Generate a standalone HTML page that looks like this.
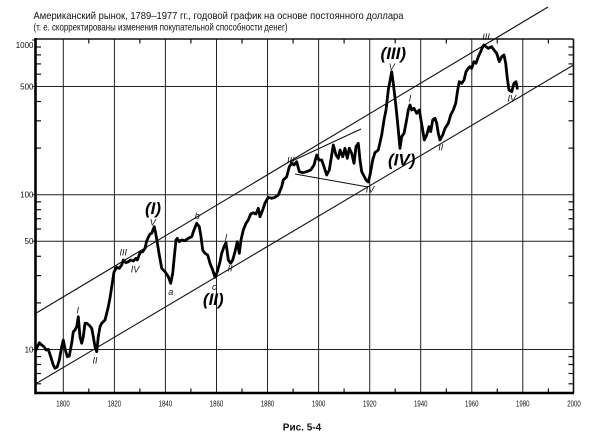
<!DOCTYPE html>
<html><head><meta charset="utf-8"><style>
html,body{margin:0;padding:0;background:#fff;}
svg{display:block;}
text{font-family:"Liberation Sans","DejaVu Sans",sans-serif;}
</style></head><body>
<svg width="600" height="438" viewBox="0 0 600 438" xmlns="http://www.w3.org/2000/svg">
<rect width="600" height="438" fill="#fff"/>
<!-- title -->
<text x="33.5" y="18.9" font-size="10.3" fill="#111" textLength="370" lengthAdjust="spacingAndGlyphs">Американский рынок, 1789–1977 гг., годовой график на основе постоянного доллара</text>
<text x="33.5" y="30.4" font-size="10.3" fill="#111" textLength="254" lengthAdjust="spacingAndGlyphs">(т. е. скорректированы изменения покупательной способности денег)</text>

<!-- grid -->
<g stroke="#222" stroke-width="1">
<line x1="63.3" y1="39" x2="63.3" y2="393"/>
<line x1="114.4" y1="39" x2="114.4" y2="393"/>
<line x1="165.4" y1="39" x2="165.4" y2="393"/>
<line x1="216.5" y1="39" x2="216.5" y2="393"/>
<line x1="267.5" y1="39" x2="267.5" y2="393"/>
<line x1="318.6" y1="39" x2="318.6" y2="393"/>
<line x1="369.7" y1="39" x2="369.7" y2="393"/>
<line x1="420.7" y1="39" x2="420.7" y2="393"/>
<line x1="471.8" y1="39" x2="471.8" y2="393"/>
<line x1="522.8" y1="39" x2="522.8" y2="393"/>
<line x1="32" y1="86.5" x2="573.5" y2="86.5"/>
<line x1="32" y1="194.7" x2="573.5" y2="194.7"/>
<line x1="32" y1="241.3" x2="573.5" y2="241.3"/>
<line x1="32" y1="349.5" x2="573.5" y2="349.5"/>
<line x1="32" y1="40" x2="36" y2="40"/>
</g>

<!-- minor ticks left & right -->
<g stroke="#111" stroke-width="1.2">
<line x1="35.5" y1="383.8" x2="41" y2="383.8"/><line x1="35.5" y1="373.5" x2="41" y2="373.5"/>
<line x1="35.5" y1="364.5" x2="41" y2="364.5"/><line x1="35.5" y1="356.6" x2="41" y2="356.6"/>
<line x1="35.5" y1="302.9" x2="41" y2="302.9"/><line x1="35.5" y1="275.6" x2="41" y2="275.6"/>
<line x1="35.5" y1="256.3" x2="41" y2="256.3"/><line x1="35.5" y1="229" x2="41" y2="229"/>
<line x1="35.5" y1="218.7" x2="41" y2="218.7"/><line x1="35.5" y1="209.7" x2="41" y2="209.7"/>
<line x1="35.5" y1="201.8" x2="41" y2="201.8"/><line x1="35.5" y1="148.1" x2="41" y2="148.1"/>
<line x1="35.5" y1="120.8" x2="41" y2="120.8"/><line x1="35.5" y1="101.5" x2="41" y2="101.5"/>
<line x1="35.5" y1="74.2" x2="41" y2="74.2"/><line x1="35.5" y1="63.9" x2="41" y2="63.9"/>
<line x1="35.5" y1="54.9" x2="41" y2="54.9"/><line x1="35.5" y1="47" x2="41" y2="47"/>

<line x1="568.5" y1="383.8" x2="573.5" y2="383.8"/><line x1="568.5" y1="373.5" x2="573.5" y2="373.5"/>
<line x1="568.5" y1="364.5" x2="573.5" y2="364.5"/><line x1="568.5" y1="356.6" x2="573.5" y2="356.6"/>
<line x1="568.5" y1="302.9" x2="573.5" y2="302.9"/><line x1="568.5" y1="275.6" x2="573.5" y2="275.6"/>
<line x1="568.5" y1="256.3" x2="573.5" y2="256.3"/><line x1="568.5" y1="229" x2="573.5" y2="229"/>
<line x1="568.5" y1="218.7" x2="573.5" y2="218.7"/><line x1="568.5" y1="209.7" x2="573.5" y2="209.7"/>
<line x1="568.5" y1="201.8" x2="573.5" y2="201.8"/><line x1="568.5" y1="148.1" x2="573.5" y2="148.1"/>
<line x1="568.5" y1="120.8" x2="573.5" y2="120.8"/><line x1="568.5" y1="101.5" x2="573.5" y2="101.5"/>
<line x1="568.5" y1="74.2" x2="573.5" y2="74.2"/><line x1="568.5" y1="63.9" x2="573.5" y2="63.9"/>
<line x1="568.5" y1="54.9" x2="573.5" y2="54.9"/><line x1="568.5" y1="47" x2="573.5" y2="47"/>

<!-- top/bottom minor ticks -->
<line x1="88.8" y1="39" x2="88.8" y2="43.5"/><line x1="88.8" y1="393" x2="88.8" y2="388.5"/>
<line x1="139.9" y1="39" x2="139.9" y2="43.5"/><line x1="139.9" y1="393" x2="139.9" y2="388.5"/>
<line x1="190.9" y1="39" x2="190.9" y2="43.5"/><line x1="190.9" y1="393" x2="190.9" y2="388.5"/>
<line x1="242" y1="39" x2="242" y2="43.5"/><line x1="242" y1="393" x2="242" y2="388.5"/>
<line x1="293.1" y1="39" x2="293.1" y2="43.5"/><line x1="293.1" y1="393" x2="293.1" y2="388.5"/>
<line x1="344.1" y1="39" x2="344.1" y2="43.5"/><line x1="344.1" y1="393" x2="344.1" y2="388.5"/>
<line x1="395.2" y1="39" x2="395.2" y2="43.5"/><line x1="395.2" y1="393" x2="395.2" y2="388.5"/>
<line x1="446.3" y1="39" x2="446.3" y2="43.5"/><line x1="446.3" y1="393" x2="446.3" y2="388.5"/>
<line x1="497.3" y1="39" x2="497.3" y2="43.5"/><line x1="497.3" y1="393" x2="497.3" y2="388.5"/>
<line x1="548.4" y1="39" x2="548.4" y2="43.5"/><line x1="548.4" y1="393" x2="548.4" y2="388.5"/>
</g>

<!-- frame -->
<line x1="35.5" y1="39" x2="573.5" y2="39" stroke="#111" stroke-width="1.6"/>
<line x1="573.5" y1="39" x2="573.5" y2="393" stroke="#111" stroke-width="1.6"/>
<line x1="35.5" y1="38" x2="35.5" y2="394.2" stroke="#000" stroke-width="2.6"/>
<line x1="34.5" y1="393" x2="574" y2="393" stroke="#000" stroke-width="2.4"/>

<!-- channel lines -->
<g stroke="#111" stroke-width="1.1" fill="none">
<line x1="35.5" y1="313.5" x2="548" y2="7"/>
<line x1="35.5" y1="384" x2="573.5" y2="65"/>
<line x1="290" y1="162" x2="361" y2="129"/>
<line x1="295" y1="174" x2="368" y2="187"/>
</g>

<!-- series -->
<polyline fill="none" stroke="#000" stroke-width="2.8" stroke-linejoin="round" stroke-linecap="round" points="
36,350 39.3,342.7 41.7,345 44,346.7 46,350 48.3,349.3 50.7,356.7 53.3,365 55,368.3 57.3,366.7 59.3,360 61.7,346.7 63.3,340 65.3,350 67.3,356.7 69.3,356 71.7,343.3 73.3,331.7 75,330 76.7,326.7 78.3,316.7 80,336.7 81.7,343.3 83.3,336.7 85,323.3 86.7,323.3 90,326 91.7,328.3 93.3,336.7 95,346.7 96.7,351.7 98.3,336.7 100,326.7 101.7,323.3 105,320 106.7,313.3 108.3,306.7 110,298 112,285 114,272 116.7,267.3 119.3,268.3 121.7,265 123.3,260 126,262.7 128.3,261.7 130.7,260 133.3,261 136,258.3 137.3,260 140,252.7 142.7,251.7 145,248.3 146.7,241 148.3,237.3 150,234 151.7,233.3 153.3,229 154.3,226.7 155.7,233.3 157.3,243 159.3,255 161.7,268.3 165,271.7 168.3,276.7 170.7,283.3 172.7,273.3 174.3,256.7 176,240 177.3,238.3 179.3,241.7 181.7,240 185,240.7 188.3,238.3 191.7,236.7 194,230 196.7,223.3 199.3,226.7 201,236.7 202.7,250 205,253.3 207.7,255 210,263.3 212.7,270 215,277.3 217.3,271.7 220,261.7 221.7,253.3 224,246.7 226,242.7 228.3,260 230.7,263.3 232.7,260 235,251.7 237.3,241.7 239.3,253.3 241,240 243.3,230 246,223.3 248.3,220 250.7,214 253.3,212.7 256,214 258.3,208.3 260,216.7 262.7,210 265,203 268.3,197.3 271.7,198.3 275,197.3 278.3,195 281.7,186.7 283.3,180 286.7,176.7 289.3,166.7 291.7,163.3 294,165 296.7,161.7 299.3,171.7 302.7,172.7 306.7,171.7 310.7,170 314,165 316.7,155 319,160 321.7,160 324,166.7 326.7,175 329.3,170 331.7,155 333.3,145 336,155 338.3,158.3 340,150 342.7,156.7 345,148.3 347.3,158.3 349.3,148.3 351.7,153.3 354,163.3 356,146.7 358.3,143.3 360,160 361.7,171.7 364,176 366,180 368.3,182 370,175 372.7,160 375,152.5 378.3,150 381.7,135 384,120 386,110 388.3,90 391.7,71.7 393.3,83.3 396,106.7 398.3,130 400,148.3 401.7,136.7 404,133.3 406,123.3 408.3,110 410,105 411.7,110 414,108.3 416.7,113.3 419.3,110 421,120 422.7,130 424.3,140 426.7,135 429,126.7 430.7,131.7 432.7,120 435,118.3 436.7,123.3 438.3,133.3 440,140 442.7,135 445,128.3 448.3,123.3 450.7,115 453.3,110 455.7,103.3 457.7,90 459.3,81.7 461.7,83.3 464,80 466,71.7 468.3,68.3 470,66.7 471.7,68.3 474,61.7 476,63.3 478.3,56.7 480.7,51.7 482.7,46.7 484,45 486,46.7 488.3,48.3 491.7,46.7 494,50 496.7,53.3 499.3,61.7 501.7,56.7 504,55 505.7,63.3 507.3,78.3 509,90 511.7,91.7 514,83.3 516,81.7 517.3,88.3"/>

<!-- axis labels -->
<g font-size="8" fill="#111" text-anchor="end">
<text x="33.5" y="47.8">1000</text>
<text x="33.5" y="89.3">500</text>
<text x="33.5" y="197.5">100</text>
<text x="33.5" y="244.1">50</text>
<text x="33.5" y="352.3">10</text>
</g>
<g font-size="8" fill="#111" text-anchor="middle">
<text x="63" y="406.5" textLength="13.5" lengthAdjust="spacingAndGlyphs">1800</text>
<text x="114.4" y="406.5" textLength="13.5" lengthAdjust="spacingAndGlyphs">1820</text>
<text x="165.4" y="406.5" textLength="13.5" lengthAdjust="spacingAndGlyphs">1840</text>
<text x="216.5" y="406.5" textLength="13.5" lengthAdjust="spacingAndGlyphs">1860</text>
<text x="267.5" y="406.5" textLength="13.5" lengthAdjust="spacingAndGlyphs">1880</text>
<text x="318.6" y="406.5" textLength="13.5" lengthAdjust="spacingAndGlyphs">1900</text>
<text x="369.7" y="406.5" textLength="13.5" lengthAdjust="spacingAndGlyphs">1920</text>
<text x="420.7" y="406.5" textLength="13.5" lengthAdjust="spacingAndGlyphs">1940</text>
<text x="471.8" y="406.5" textLength="13.5" lengthAdjust="spacingAndGlyphs">1960</text>
<text x="522.8" y="406.5" textLength="13.5" lengthAdjust="spacingAndGlyphs">1980</text>
<text x="574" y="406.5" textLength="13.5" lengthAdjust="spacingAndGlyphs">2000</text>
</g>
<text x="302" y="430.5" font-size="10" font-weight="bold" fill="#111" text-anchor="middle">Рис. 5-4</text>

<!-- wave labels small -->
<g font-size="9" font-style="italic" fill="#111" text-anchor="middle">
<text x="77.7" y="313.5">I</text>
<text x="95" y="363.5">II</text>
<text x="123.3" y="255.5">III</text>
<text x="135" y="272.5">IV</text>
<text x="152.7" y="225.5">V</text>
<text x="170.7" y="295">a</text>
<text x="197.3" y="219">b</text>
<text x="214.3" y="290">c</text>
<text x="226" y="240.5">I</text>
<text x="230" y="271.5">II</text>
<text x="290.7" y="163.5">III</text>
<text x="370" y="192.5">IV</text>
<text x="391.7" y="70">V</text>
<text x="410" y="101.5">I</text>
<text x="440.7" y="150.5">II</text>
<text x="486" y="40">III</text>
<text x="511.7" y="101.5">IV</text>
</g>
<!-- wave labels large -->
<g font-size="17" font-style="italic" font-weight="bold" fill="#000" text-anchor="middle">
<text x="153" y="214">(I)</text>
<text x="213.3" y="305">(II)</text>
<text x="393.3" y="59">(III)</text>
<text x="401.7" y="165.5">(IV)</text>
</g>
</svg>
</body></html>
